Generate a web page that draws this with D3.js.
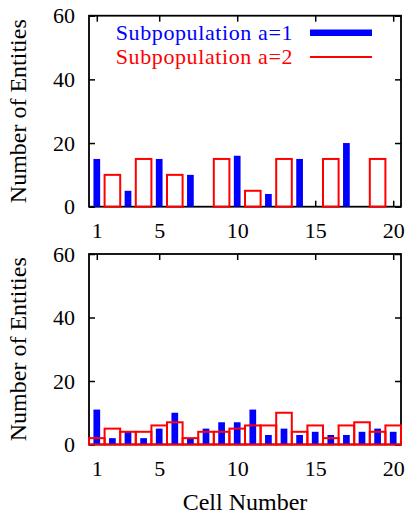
<!DOCTYPE html>
<html>
<head>
<meta charset="utf-8">
<script src="https://cdn.jsdelivr.net/npm/d3@7"></script>
<style>
    body { margin: 0; background: #fff; }
    .axis line { stroke: #000; stroke-width: 1.5; }
    .axis path { display: none; }
</style>
</head>
<body>
<script>
// cell numbers along the x axis
var cells = [1, 2, 3, 4, 5, 6, 7, 8, 9, 10, 11, 12, 13, 14, 15, 16, 17, 18, 19, 20];
var xTicks = [1, 5, 10, 15, 20];
var yTicks = [0, 20, 40, 60];

// upper panel
var topA1 = [15, 0, 5, 0, 15, 0, 10, 0, 0, 16, 0, 4, 0, 15, 0, 0, 20, 0, 0, 0];
var topA2 = [0, 10, 0, 15, 0, 10, 0, 0, 15, 0, 5, 0, 15, 0, 0, 15, 0, 0, 15, 0];

// lower panel
var botA1 = [11, 2, 4, 2, 5, 10, 2, 5, 7, 7, 11, 3, 5, 3, 4, 3, 3, 4, 5, 4];
var botA2 = [2, 5, 4, 4, 6, 7, 2, 4, 4, 5, 6, 6, 10, 4, 6, 2, 6, 7, 4, 6];

var seriesNames = ['Subpopulation a=1', 'Subpopulation a=2'];
var BLUE = '#0000ff', RED = '#ff0000';
var FONT = "'Liberation Serif'";

var W = 406, H = 515;
var left = 89, right = 401;

var svg = d3.select('body').append('svg').attr('width', W).attr('height', H);

var x = d3.scaleLinear().domain([0.5, 20.5]).range([left, right]);
var cellW = x(2) - x(1);

function panel(top, bottom, a1, a2) {
    var y = d3.scaleLinear().domain([0, 60]).range([bottom, top]);
    var g = svg.append('g');

    // frame
    g.append('rect')
        .attr('x', left).attr('y', top)
        .attr('width', right - left).attr('height', bottom - top)
        .attr('fill', 'none').attr('stroke', '#000').attr('stroke-width', 1.8);

    // ticks, all pointing inwards
    g.append('g').attr('class', 'axis')
        .attr('transform', 'translate(' + left + ',0)')
        .call(d3.axisLeft(y).tickValues(yTicks).tickSize(-6).tickPadding(14));
    g.append('g').attr('class', 'axis')
        .attr('transform', 'translate(' + right + ',0)')
        .call(d3.axisRight(y).tickValues(yTicks).tickSize(-6).tickFormat(''));
    g.append('g').attr('class', 'axis')
        .attr('transform', 'translate(0,' + bottom + ')')
        .call(d3.axisBottom(x).tickValues(xTicks).tickSize(-6).tickPadding(16));
    g.append('g').attr('class', 'axis')
        .attr('transform', 'translate(0,' + top + ')')
        .call(d3.axisTop(x).tickValues(xTicks).tickSize(-6).tickFormat(''));

    g.selectAll('.axis').attr('font-family', null).attr('font-size', null);
    g.selectAll('.axis text')
        .style('font-family', FONT)
        .style('font-size', '22px')
        .style('fill', '#000');

    // a=1: narrow filled bars
    var bw = cellW * 0.43;
    g.selectAll('.b1')
        .data(a1)
        .enter().append('rect')
        .attr('class', 'b1')
        .attr('x', function (d, i) { return x(cells[i]) - bw / 2; })
        .attr('y', function (d) { return y(d); })
        .attr('width', bw)
        .attr('height', function (d) { return y(0) - y(d); })
        .attr('fill', BLUE);

    // a=2: full-width open boxes
    g.selectAll('.b2')
        .data(a2)
        .enter().append('rect')
        .attr('class', 'b2')
        .attr('x', function (d, i) { return x(cells[i]) - cellW / 2; })
        .attr('y', function (d) { return y(d); })
        .attr('width', cellW)
        .attr('height', function (d) { return y(0) - y(d); })
        .attr('fill', 'none')
        .attr('stroke', RED)
        .attr('stroke-width', 2);

    // y label
    svg.append('text')
        .attr('transform', 'translate(26,' + ((top + bottom) / 2) + ') rotate(-90)')
        .attr('text-anchor', 'middle')
        .style('font-family', FONT)
        .style('font-size', '24px')
        .text('Number of Entities');
}

panel(15.7, 206.7, topA1, topA2);
panel(254, 444.5, botA1, botA2);

// x label
svg.append('text')
    .attr('x', (left + right) / 2).attr('y', 510)
    .attr('text-anchor', 'middle')
    .style('font-family', FONT)
    .style('font-size', '24px')
    .text('Cell Number');

// legend
var leg = svg.append('g');
var legY = [32.8, 57];
var legColor = [BLUE, RED];
var legWidth = [6.5, 2];
seriesNames.forEach(function (name, i) {
    leg.append('text')
        .attr('x', 293).attr('y', legY[i])
        .attr('dy', '0.33em')
        .attr('text-anchor', 'end')
        .style('font-family', FONT)
        .style('font-size', '22px')
        .style('letter-spacing', '0.6px')
        .attr('fill', legColor[i])
        .text(name);
    leg.append('line')
        .attr('x1', 310).attr('x2', 372)
        .attr('y1', legY[i]).attr('y2', legY[i])
        .attr('stroke', legColor[i])
        .attr('stroke-width', legWidth[i]);
});
</script>
</body>
</html>
